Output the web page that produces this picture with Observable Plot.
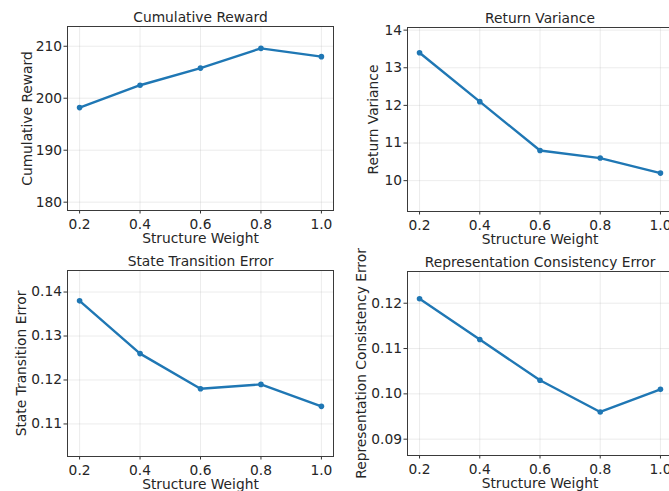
<!DOCTYPE html>
<html><head><meta charset="utf-8">
<script src="https://cdn.jsdelivr.net/npm/d3@7"></script>
<script src="https://cdn.jsdelivr.net/npm/@observablehq/plot@0.6"></script>
<style>
body{margin:0;background:#fff;}
#root{position:relative;width:669px;height:491px;overflow:hidden;background:#fff;}
#root svg{position:absolute;overflow:visible;}
</style></head><body><div id="root"></div>
<script>
const weights = [0.2, 0.4, 0.6, 0.8, 1.0];
const xTicks = [0.2, 0.4, 0.6, 0.8, 1.0];
const xLabel = "Structure Weight";
const titles = ["Cumulative Reward", "Return Variance", "State Transition Error", "Representation Consistency Error"];
const cumulativeReward = [198.2, 202.5, 205.8, 209.6, 208.0];
const returnVariance = [13.4, 12.1, 10.8, 10.6, 10.2];
const stateTransitionError = [0.138, 0.126, 0.118, 0.119, 0.114];
const representationConsistencyError = [0.121, 0.112, 0.103, 0.096, 0.101];
const yTicks1 = [180, 190, 200, 210];
const yTicks2 = [10, 11, 12, 13, 14];
const yTicks3 = [0.11, 0.12, 0.13, 0.14];
const yTicks4 = [0.09, 0.10, 0.11, 0.12];

const panels = [
  {title: titles[0], values: cumulativeReward, yDomain: [178.4, 213.8], yTicks: yTicks1, fmt: "d",
   left: 0, top: 0, mL: 67, mR: 7, mT: 26, mB: 40, ylDx: -40},
  {title: titles[1], values: returnVariance, yDomain: [9.18, 14.07], yTicks: yTicks2, fmt: "d",
   left: 335, top: 0, mL: 72, mR: 3, mT: 27, mB: 39, ylDx: -34},
  {title: titles[2], values: stateTransitionError, yDomain: [0.1026, 0.1449], yTicks: yTicks3, fmt: ".2f",
   left: 0, top: 245, mL: 67, mR: 7, mT: 25, mB: 39, ylDx: -46},
  {title: titles[3], values: representationConsistencyError, yDomain: [0.0864, 0.127], yTicks: yTicks4, fmt: ".2f",
   left: 335, top: 245, mL: 72, mR: 3, mT: 26, mB: 40, ylDx: -46}
];

const root = document.getElementById("root");
const FS = 13.8;
const color = "#1f77b4";

for (const p of panels) {
  const data = weights.map((w, i) => ({w, v: p.values[i]}));
  const chart = Plot.plot({
    width: 340, height: 250,
    marginLeft: p.mL, marginRight: p.mR, marginTop: p.mT, marginBottom: p.mB,
    style: {fontFamily: "DejaVu Sans", fontSize: FS + "px", color: "#262626", background: "transparent"},
    x: {domain: [0.16, 1.04]},
    y: {domain: p.yDomain},
    marks: [
      Plot.gridX(xTicks, {stroke: "#b0b0b0", strokeOpacity: 0.3, strokeWidth: 0.8}),
      Plot.gridY(p.yTicks, {stroke: "#b0b0b0", strokeOpacity: 0.3, strokeWidth: 0.8}),
      Plot.axisX(xTicks, {tickSize: 3.5, tickPadding: 5, tickFormat: d3.format(".1f"), label: null, stroke: "#333", fontSize: FS}),
      Plot.axisY(p.yTicks, {tickSize: 3.5, tickPadding: 2, tickFormat: d3.format(p.fmt), label: null, stroke: "#333", fontSize: FS}),
      Plot.frame({stroke: "#3a3a3a", strokeWidth: 1}),
      Plot.line(data, {x: "w", y: "v", stroke: color, strokeWidth: 2.4}),
      Plot.dot(data, {x: "w", y: "v", r: 2.8, fill: color, stroke: "none"}),
      Plot.text([p.title], {frameAnchor: "top", lineAnchor: "middle", dy: -8.5, fontSize: FS, fill: "#262626"}),
      Plot.text([xLabel], {frameAnchor: "bottom", lineAnchor: "middle", dy: 28.5, fontSize: FS, fill: "#262626"}),
      Plot.text([p.title], {frameAnchor: "left", textAnchor: "middle", lineAnchor: "middle", rotate: -90, dx: p.ylDx, fontSize: FS, fill: "#262626"})
    ]
  });
  chart.style.left = p.left + "px";
  chart.style.top = p.top + "px";
  root.appendChild(chart);
}
</script>
</body></html>
